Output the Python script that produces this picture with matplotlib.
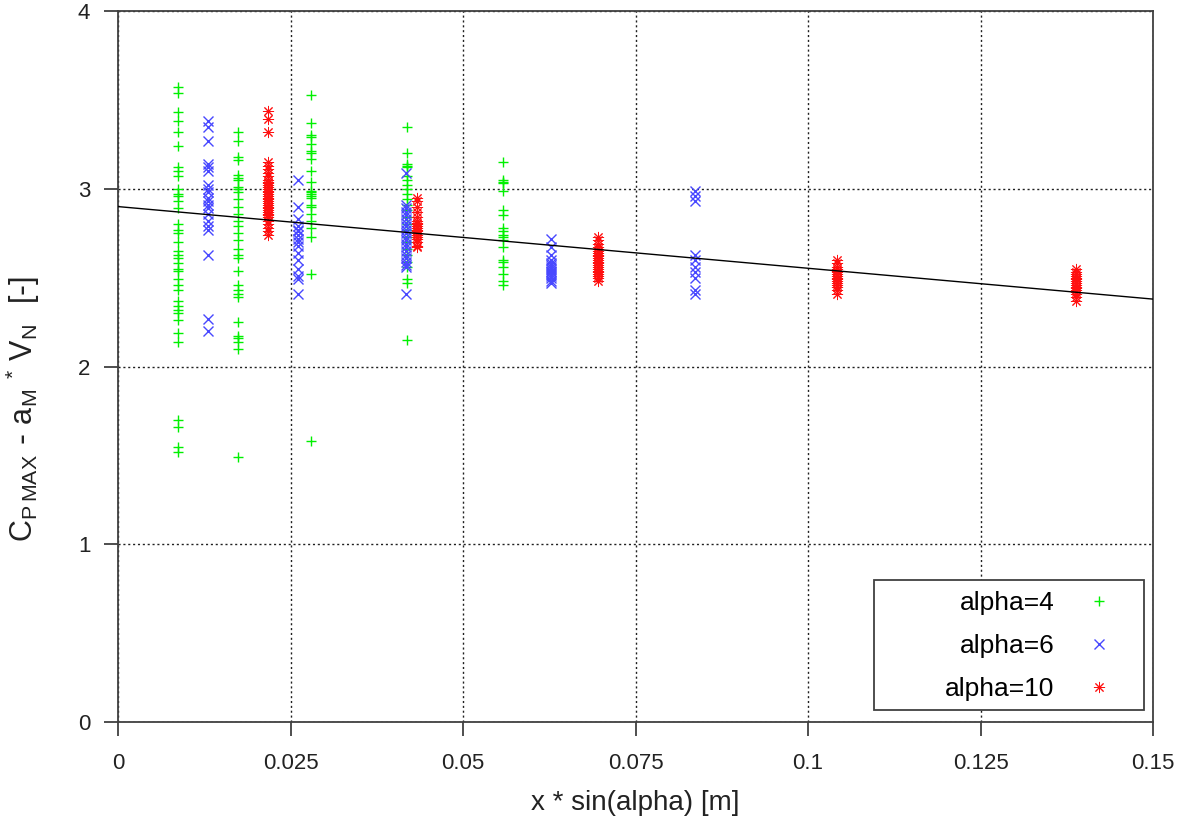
import numpy as np
import matplotlib
matplotlib.use('Agg')
import matplotlib.pyplot as plt
from matplotlib.patches import Rectangle

plt.rcParams['font.family'] = ['Liberation Sans', 'DejaVu Sans']

# x * sin(alpha) positions of the measurement columns
x_a4 = [0.0087, 0.0174, 0.0279, 0.0419, 0.0558]
x_a6 = [0.0131, 0.0261, 0.0418, 0.0627, 0.0836]
x_a10 = [0.0217, 0.0434, 0.0695, 0.1042, 0.1389]

# CP_MAX - a_M * V_N values per column
y_a4 = [
    [3.57, 3.54, 3.43, 3.38, 3.32, 3.24, 3.12, 3.10, 3.07, 3.00, 2.97, 2.96, 2.93,
     2.89, 2.80, 2.77, 2.75, 2.70, 2.65, 2.63, 2.61, 2.58, 2.55, 2.54, 2.49, 2.46,
     2.43, 2.37, 2.34, 2.32, 2.30, 2.26, 2.19, 2.14, 1.70, 1.66, 1.55, 1.52],
    [3.32, 3.27, 3.18, 3.16, 3.08, 3.06, 3.05, 3.01, 3.00, 2.98, 2.94, 2.90, 2.86,
     2.82, 2.79, 2.75, 2.71, 2.66, 2.63, 2.61, 2.54, 2.46, 2.43, 2.41, 2.39, 2.25,
     2.17, 2.16, 2.14, 2.10, 1.49],
    [3.53, 3.37, 3.30, 3.29, 3.25, 3.21, 3.20, 3.17, 3.10, 3.04, 2.99, 2.98, 2.97,
     2.96, 2.95, 2.91, 2.90, 2.86, 2.82, 2.78, 2.73, 2.52, 1.58],
    [3.35, 3.20, 3.14, 3.13, 3.12, 3.07, 3.05, 3.02, 3.00, 2.97, 2.94, 2.91, 2.88,
     2.84, 2.80, 2.77, 2.73, 2.70, 2.66, 2.63, 2.59, 2.56, 2.49, 2.47, 2.15],
    [3.15, 3.05, 3.04, 3.03, 2.99, 2.88, 2.85, 2.78, 2.76, 2.74, 2.73, 2.71, 2.67,
     2.60, 2.59, 2.56, 2.52, 2.48, 2.46],
]
y_a6 = [
    [3.38, 3.35, 3.27, 3.14, 3.12, 3.10, 3.02, 3.00, 2.98, 2.95, 2.93, 2.91, 2.89,
     2.86, 2.82, 2.79, 2.77, 2.63, 2.27, 2.20],
    [3.05, 2.90, 2.83, 2.79, 2.77, 2.76, 2.74, 2.72, 2.70, 2.68, 2.64, 2.60, 2.55,
     2.51, 2.49, 2.41],
    [3.09, 2.91, 2.89, 2.87, 2.85, 2.83, 2.81, 2.79, 2.77, 2.75, 2.73, 2.71, 2.69,
     2.67, 2.65, 2.63, 2.61, 2.59, 2.57, 2.56, 2.41],
    [2.72, 2.67, 2.63, 2.60, 2.58, 2.57, 2.56, 2.55, 2.54, 2.53, 2.52, 2.51, 2.50,
     2.48, 2.47],
    [2.99, 2.96, 2.93, 2.63, 2.60, 2.56, 2.53, 2.50, 2.43, 2.41],
]
y_a10 = [
    [3.44, 3.39, 3.32, 3.15, 3.13, 3.11, 3.09, 3.07, 3.05, 3.04, 3.03, 3.02, 3.01,
     3.00, 2.99, 2.98, 2.97, 2.96, 2.95, 2.94, 2.93, 2.92, 2.91, 2.90, 2.89, 2.88,
     2.87, 2.86, 2.85, 2.84, 2.82, 2.80, 2.78, 2.76, 2.74],
    [2.95, 2.93, 2.90, 2.87, 2.84, 2.82, 2.81, 2.80, 2.79, 2.78, 2.77, 2.76, 2.75,
     2.74, 2.73, 2.72, 2.70, 2.68, 2.67],
    [2.73, 2.71, 2.69, 2.67, 2.66, 2.65, 2.64, 2.63, 2.62, 2.61, 2.60, 2.59, 2.58,
     2.57, 2.56, 2.55, 2.54, 2.53, 2.52, 2.51, 2.50, 2.48],
    [2.60, 2.58, 2.56, 2.55, 2.54, 2.53, 2.52, 2.51, 2.50, 2.49, 2.48, 2.47, 2.46,
     2.45, 2.43, 2.41],
    [2.55, 2.53, 2.52, 2.51, 2.50, 2.49, 2.48, 2.47, 2.46, 2.45, 2.44, 2.43, 2.42,
     2.41, 2.39, 2.37],
]

# linear fit y = fit_a + fit_b * x
fit_a = 2.90
fit_b = -3.47

xticks = [0, 0.025, 0.05, 0.075, 0.1, 0.125, 0.15]
xtick_labels = ['0', '0.025', '0.05', '0.075', '0.1', '0.125', '0.15']
yticks = [0, 1, 2, 3, 4]

# marker styles for the three series
sty4 = dict(ls='none', marker='+', ms=7.5, mew=1.0, color='#00f000')
sty6 = dict(ls='none', marker='x', ms=6.5, mew=1.0, color='#4848ff')
sty10 = dict(ls='none', marker=(8, 2, 0), ms=8, mew=0.7, color='#ff1010')


def flatten(xs, ys):
    px, py = [], []
    for x, col in zip(xs, ys):
        px += [x] * len(col)
        py += col
    return px, py


fig = plt.figure(figsize=(11.91, 8.30), dpi=100)
ax = fig.add_axes([0.0991, 0.130, 0.8690, 0.8567])

x4, v4 = flatten(x_a4, y_a4)
x6, v6 = flatten(x_a6, y_a6)
x10, v10 = flatten(x_a10, y_a10)

ax.plot(x4, v4, zorder=3, **sty4)
ax.plot(x6, v6, zorder=3, **sty6)
ax.plot(x10, v10, zorder=3, **sty10)

xf = np.array([0, 0.15])
ax.plot(xf, fit_a + fit_b * xf, color='black', lw=1.0, zorder=4)

ax.set_xlim(0, 0.15)
ax.set_ylim(0, 4)
ax.set_xticks(xticks)
ax.set_xticklabels(xtick_labels)
ax.set_yticks(yticks)
ax.tick_params(direction='out', length=10, width=1.2, colors='#303030',
               labelsize=16, labelcolor='#222222')
ax.tick_params(axis='x', pad=12)
ax.tick_params(axis='y', pad=10)
ax.grid(True, color='#202020', ls=(0, (1.5, 2)), lw=1.0, zorder=1)
for s in ax.spines.values():
    s.set_color('#404040')
    s.set_linewidth(1.3)

ax.set_xlabel('x * sin(alpha) [m]', fontsize=20, labelpad=12, color='#222222')
ax.set_ylabel(r'$\mathregular{C_{P\,MAX}\ \text{-}\ a_M\,{}^*\,V_N\ \ [\text{-}]}$',
              fontsize=22, color='#222222')
ax.yaxis.set_label_coords(-0.073, 0.44)

# legend: text to the left of the symbols, inside a framed box
h4, = ax.plot([], [], **sty4)
h6, = ax.plot([], [], **sty6)
h10, = ax.plot([], [], **sty10)
ax.legend([h4, h6, h10], ['alpha=4', 'alpha=6', 'alpha=10'],
          loc='lower right', bbox_to_anchor=(0.978, 0.003), frameon=False,
          markerfirst=False, fontsize=19, handlelength=1.0, handletextpad=1.17,
          labelspacing=0.72, borderpad=0.2)
ax.add_patch(Rectangle((0.730, 0.017), 0.261, 0.183, transform=ax.transAxes,
                       fill=True, facecolor='white', edgecolor='#404040',
                       lw=1.3, zorder=5))
ax.get_legend().set_zorder(6)

fig.savefig('out.png', dpi=100)
